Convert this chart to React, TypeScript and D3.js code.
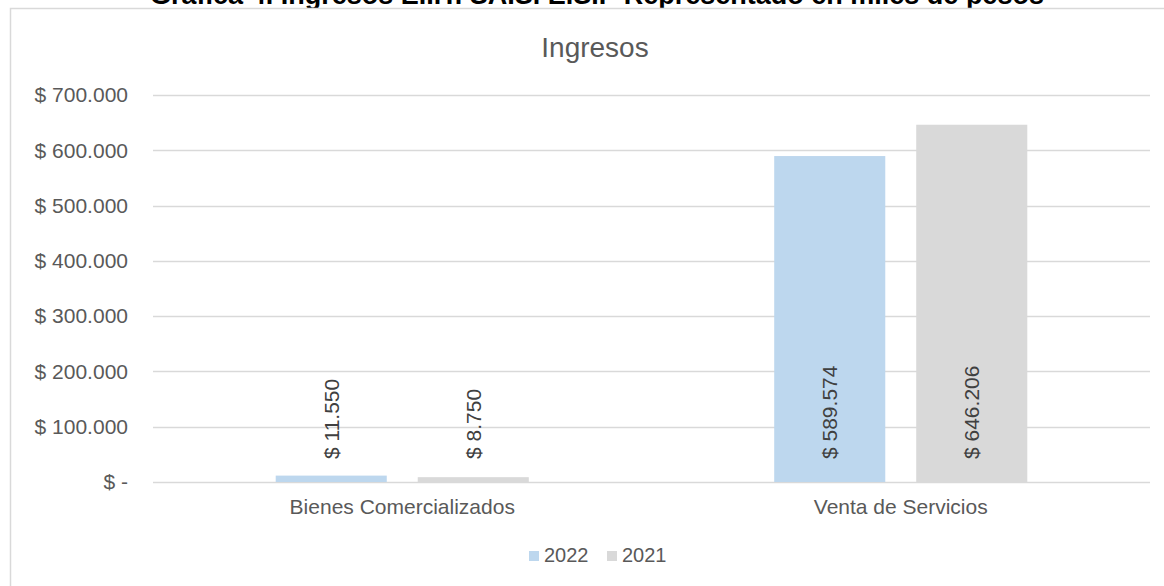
import React from "react";
import * as d3 from "d3";

const categories = ["Bienes Comercializados", "Venta de Servicios"];
const seriesNames = ["2022", "2021"];
const values2022 = [11550, 589574];
const values2021 = [8750, 646206];
const yTicks = [0, 100000, 200000, 300000, 400000, 500000, 600000, 700000];
const colors = ["#BDD7EE", "#D9D9D9"];

const W = 1164;
const H = 586;
const FONT = "Arial, 'Liberation Sans', sans-serif";

const fmtNum = (v: number) => d3.format(",")(v).replace(/,/g, ".");
const fmtTick = (v: number) => (v === 0 ? "$ -" : "$ " + fmtNum(v));

export default function App() {
  const left = 153;
  const right = 1150;
  const top = 95;
  const bottom = 482;
  const x = d3.scaleBand<string>().domain(categories).range([left, right]).paddingInner(0).paddingOuter(0);
  const y = d3.scaleLinear().domain([0, 700000]).range([bottom, top]);
  const inner = d3.scaleBand<string>().domain(seriesNames).range([0, x.bandwidth()]).paddingInner(0.218).paddingOuter(0.864);
  const series = [values2022, values2021];

  return (
    <div style={{ position: "absolute", left: 0, top: 0 }}>
      <svg width={W} height={H} style={{ display: "block", fontFamily: FONT }}>
        <rect x={0} y={0} width={W} height={H} fill="#fff" />
        <text x={597} y={4} textAnchor="middle" fontSize={27} fontWeight="bold" fill="#000">
          Gráfica 4. Ingresos E.I.T. SAIS. E.S.P Representado en miles de pesos
        </text>
        <rect x={10.5} y={8.5} width={1200} height={600} fill="#fff" stroke="#D9D9D9" strokeWidth={1.5} />
        <text x={595} y={57} textAnchor="middle" fontSize={28} fill="#595959">Ingresos</text>
        {yTicks.map((t) => (
          <g key={t}>
            <line x1={left} x2={right} y1={Math.round(y(t)) + 0.5} y2={Math.round(y(t)) + 0.5} stroke="#D9D9D9" strokeWidth={1.5} />
            <text x={128} y={y(t)} dy="0.35em" textAnchor="end" fontSize={21} fill="#595959">{fmtTick(t)}</text>
          </g>
        ))}
        {categories.map((c, ci) => (
          <g key={c}>
            {seriesNames.map((s, si) => {
              const v = series[si][ci];
              const bx = (x(c) as number) + (inner(s) as number);
              const bw = inner.bandwidth();
              return (
                <g key={s}>
                  <rect x={bx} y={y(v)} width={bw} height={bottom - y(v)} fill={colors[si]} />
                  <text
                    transform={`translate(${bx + bw / 2},${bottom - 23}) rotate(-90)`}
                    textAnchor="start"
                    dy="0.35em"
                    fontSize={21}
                    fill="#404040"
                  >
                    {"$ " + fmtNum(v)}
                  </text>
                </g>
              );
            })}
            <text x={(x(c) as number) + x.bandwidth() / 2} y={514} textAnchor="middle" fontSize={21} fill="#595959">{c}</text>
          </g>
        ))}
        {seriesNames.map((s, si) => (
          <g key={s} transform={`translate(${529 + si * 78},0)`}>
            <rect x={0} y={551} width={10} height={10} fill={colors[si]} />
            <text x={15} y={562} fontSize={20} fill="#595959">{s}</text>
          </g>
        ))}
      </svg>
    </div>
  );
}
